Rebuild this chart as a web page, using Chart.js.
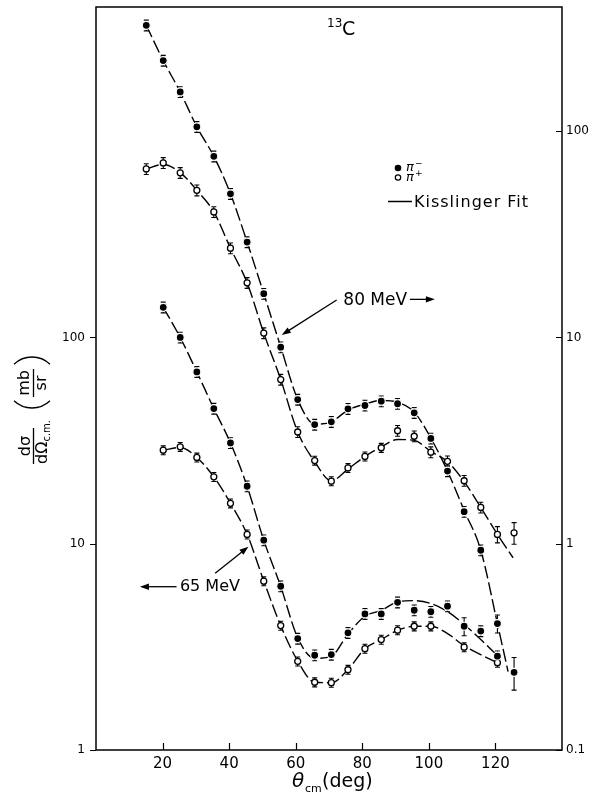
<!DOCTYPE html>
<html>
<head>
<meta charset="utf-8">
<script src="https://cdn.jsdelivr.net/npm/chart.js@4.4.1/dist/chart.umd.min.js"></script>
<style>
  html, body { margin: 0; padding: 0; background: #fff; }
</style>
</head>
<body>
<canvas id="chart" width="595" height="795"></canvas>
<script>
// scattering angles (c.m.), deg
const angles80 = [15.1, 20.2, 25.3, 30.3, 35.4, 40.4, 45.4, 50.4, 55.5, 60.6, 65.7, 70.7, 75.7, 80.8, 85.7, 90.6, 95.6, 100.6, 105.6, 110.6, 115.6, 120.6, 125.6];
const angles65 = [20.2, 25.3, 30.3, 35.4, 40.4, 45.4, 50.4, 55.5, 60.6, 65.7, 70.7, 75.7, 80.8, 85.7, 90.6, 95.6, 100.6, 105.6, 110.6, 115.6, 120.6];

// 80 MeV, read on the right axis (mb/sr)
const piMinus80 = [326, 220, 155, 105, 75.5, 49.7, 29.0, 16.3, 8.97, 5.0, 3.78, 3.90, 4.51, 4.68, 4.91, 4.77, 4.31, 3.24, 2.25, 1.43, 0.93, 0.41, 0.238];
const piPlus80 = [65.6, 70.2, 62.8, 51.7, 40.6, 27.1, 18.4, 10.5, 6.25, 3.48, 2.53, 2.01, 2.33, 2.65, 2.92, 3.53, 3.32, 2.78, 2.51, 2.02, 1.50, 1.11, 1.13];
// 65 MeV, read on the left axis (mb/sr)
const piMinus65 = [140, 100, 68.1, 45.2, 30.8, 19.0, 10.4, 6.22, 3.47, 2.88, 2.90, 3.70, 4.57, 4.57, 5.20, 4.76, 4.68, 4.98, 3.98, 3.77, 2.85];
const piPlus65 = [28.4, 29.5, 26.2, 21.1, 15.7, 11.1, 6.58, 4.01, 2.69, 2.13, 2.12, 2.45, 3.10, 3.43, 3.81, 3.98, 3.98, null, 3.15, null, 2.65];

// error bars, percent
const errMinus80 = [6, 6, 6, 6, 6, 6, 6, 6, 6, 6, 6, 6, 6, 6, 6, 6, 6, 6, 6, 6, 6, 10, 18];
const errPlus80 = [6, 6, 6, 6, 6, 6, 6, 6, 6, 6, 5, 5, 5, 5, 5, 6, 6, 6, 6, 6, 6, 9, 12];
const errMinus65 = [6, 6, 6, 6, 6, 6, 6, 6, 6, 6, 6, 6, 6, 6, 6, 6, 6, 6, 10, 6, 6];
const errPlus65 = [5, 5, 5, 5, 5, 5, 5, 5, 5, 5, 5, 5, 5, 5, 5, 5, 5, 5, 5, 5, 5];

// Kisslinger fit curves
const fitAngles80m = [15.1, 20.2, 25.3, 30.3, 35.4, 40.4, 45.4, 50.4, 55.5, 60.6, 65.7, 70.7, 75.7, 80.8, 85.7, 90.6, 95.6, 100.6, 105.6, 110.6, 115.6, 120.6, 123.8];
const fitMinus80 = [326, 220, 155, 105, 75.5, 49.7, 29.0, 16.3, 9.0, 5.0, 3.8, 3.9, 4.45, 4.75, 4.95, 4.85, 4.35, 3.25, 2.25, 1.45, 0.93, 0.41, 0.24];
const fitAngles80p = [15.1, 20.2, 25.3, 30.3, 35.4, 40.4, 45.4, 50.4, 55.5, 60.6, 65.7, 70.7, 75.7, 80.8, 85.7, 90.6, 95.6, 100.6, 105.6, 110.6, 115.6, 120.6, 125.3];
const fitPlus80 = [65.6, 69, 63, 51.7, 40.6, 27.1, 18.4, 10.5, 6.25, 3.48, 2.5, 2.02, 2.3, 2.65, 2.95, 3.2, 3.17, 2.8, 2.5, 2.0, 1.5, 1.11, 0.855];
const fitMinus65 = [140, 100, 68, 45.2, 30.8, 19, 10.4, 6.2, 3.5, 2.78, 2.85, 3.65, 4.45, 4.75, 5.22, 5.3, 5.13, 4.69, 4.06, 3.43, 2.87];
const fitPlus65 = [28.4, 29.3, 26.2, 21.1, 15.7, 11.1, 6.6, 4.0, 2.7, 2.13, 2.12, 2.45, 3.1, 3.43, 3.8, 3.98, 3.98, 3.67, 3.2, 2.9, 2.65];

const xTicks = [20, 40, 60, 80, 100, 120];
const leftTicks = [1, 10, 100];
const rightTicks = [0.1, 1, 10, 100];

const FONT = '"DejaVu Sans"';
Chart.defaults.font.family = FONT;
Chart.defaults.color = '#000';

function pts(xs, ys) {
  return xs.map((x, i) => ({ x: x, y: ys[i] })).filter(p => p.y != null);
}

function filledSet(xs, ys, axis, errs) {
  return {
    data: pts(xs, ys), yAxisID: axis, showLine: false, order: 0,
    pointRadius: 4, pointBackgroundColor: '#000', pointBorderColor: '#fff', pointBorderWidth: 1.2,
    errs: errs, xs: xs, ys: ys
  };
}
function openSet(xs, ys, axis, errs) {
  return {
    data: pts(xs, ys), yAxisID: axis, showLine: false, order: 0,
    pointRadius: 3, pointBackgroundColor: '#fff', pointBorderColor: '#000', pointBorderWidth: 1.3,
    errs: errs, xs: xs, ys: ys
  };
}
function fitSet(xs, ys, axis) {
  return {
    data: pts(xs, ys), yAxisID: axis, showLine: true, order: 1,
    pointRadius: 0, borderColor: '#000', borderWidth: 1.4, borderDash: [13, 4],
    cubicInterpolationMode: 'monotone', fill: false
  };
}

// annotation anchors in data units (theta, left-axis value)
const arrows = [
  [94.3, 153, 101.8, 153],
  [72.3, 151.9, 55.8, 102.8],
  [24.2, 6.19, 13.2, 6.19],
  [35.8, 7.19, 45.8, 9.67]
];

function arrow(ctx, x1, y1, x2, y2) {
  const a = Math.atan2(y2 - y1, x2 - x1);
  const hl = 9, hw = 3.2;
  ctx.beginPath();
  ctx.moveTo(x1, y1);
  ctx.lineTo(x2 - hl * 0.8 * Math.cos(a), y2 - hl * 0.8 * Math.sin(a));
  ctx.stroke();
  ctx.beginPath();
  ctx.moveTo(x2, y2);
  ctx.lineTo(x2 - hl * Math.cos(a) + hw * Math.sin(a), y2 - hl * Math.sin(a) - hw * Math.cos(a));
  ctx.lineTo(x2 - hl * Math.cos(a) - hw * Math.sin(a), y2 - hl * Math.sin(a) + hw * Math.cos(a));
  ctx.closePath();
  ctx.fill();
}

const decor = {
  id: 'decor',
  beforeDatasetsDraw(chart) {
    const ctx = chart.ctx;
    const xs = chart.scales.x;
    ctx.save();
    ctx.strokeStyle = '#000';
    ctx.lineWidth = 1.1;
    chart.data.datasets.forEach(ds => {
      if (!ds.errs) return;
      const ys = chart.scales[ds.yAxisID];
      ds.xs.forEach((t, i) => {
        const v = ds.ys[i];
        if (v == null) return;
        const px = xs.getPixelForValue(t);
        const top = ys.getPixelForValue(v * (1 + ds.errs[i] / 100));
        const bot = ys.getPixelForValue(v * (1 - ds.errs[i] / 100));
        ctx.beginPath();
        ctx.moveTo(px, top); ctx.lineTo(px, bot);
        ctx.moveTo(px - 2.5, top); ctx.lineTo(px + 2.5, top);
        ctx.moveTo(px - 2.5, bot); ctx.lineTo(px + 2.5, bot);
        ctx.stroke();
      });
    });
    ctx.restore();
  },
  afterDraw(chart) {
    const ctx = chart.ctx;
    const a = chart.chartArea;
    const xs = chart.scales.x, yl = chart.scales.y, yr = chart.scales.y2;
    ctx.save();
    ctx.strokeStyle = '#000';
    ctx.fillStyle = '#000';

    // frame
    ctx.lineWidth = 1.5;
    ctx.strokeRect(a.left, a.top, a.right - a.left, a.bottom - a.top);

    // ticks
    ctx.lineWidth = 1.2;
    ctx.beginPath();
    xTicks.forEach(t => {
      const px = Math.round(xs.getPixelForValue(t)) + 0.5;
      ctx.moveTo(px, a.bottom); ctx.lineTo(px, a.bottom - 7);
    });
    leftTicks.forEach(t => {
      const py = Math.round(yl.getPixelForValue(t)) + 0.5;
      ctx.moveTo(a.left, py); ctx.lineTo(a.left - 6, py);
    });
    rightTicks.forEach(t => {
      const py = Math.round(yr.getPixelForValue(t)) + 0.5;
      ctx.moveTo(a.right, py); ctx.lineTo(a.right - 6, py);
    });
    ctx.stroke();

    // arrows
    ctx.lineWidth = 1.3;
    arrows.forEach(r => {
      arrow(ctx, xs.getPixelForValue(r[0]), yl.getPixelForValue(r[1]),
        xs.getPixelForValue(r[2]), yl.getPixelForValue(r[3]));
    });

    // energy labels
    ctx.textAlign = 'left';
    ctx.textBaseline = 'alphabetic';
    ctx.font = '17px ' + FONT;
    ctx.fillText('80 MeV', xs.getPixelForValue(74.3), yl.getPixelForValue(143.7));
    ctx.font = '16px ' + FONT;
    ctx.fillText('65 MeV', xs.getPixelForValue(25.2), yl.getPixelForValue(5.87));

    // nucleus label
    ctx.font = '12px ' + FONT;
    ctx.fillText('13', 327, 27);
    ctx.font = '19px ' + FONT;
    ctx.fillText('C', 342, 35);

    // legend
    ctx.beginPath(); ctx.arc(398, 168, 3.3, 0, Math.PI * 2); ctx.fill();
    ctx.lineWidth = 1.2;
    ctx.beginPath(); ctx.arc(398, 177.5, 2.7, 0, Math.PI * 2); ctx.stroke();
    ctx.font = 'italic 13px ' + FONT;
    ctx.fillText('\u03c0', 406, 171);
    ctx.fillText('\u03c0', 406, 181);
    ctx.font = '9px ' + FONT;
    ctx.fillText('\u2212', 415, 166);
    ctx.fillText('+', 415, 176);
    ctx.lineWidth = 1.5;
    ctx.beginPath(); ctx.moveTo(388, 201.5); ctx.lineTo(412, 201.5); ctx.stroke();
    ctx.font = '16px ' + FONT;
    ctx.letterSpacing = '1px';
    ctx.fillText('Kisslinger Fit', 414, 207);
    ctx.letterSpacing = '0px';

    // x axis title
    ctx.font = 'italic 20px ' + FONT;
    ctx.fillText('\u03b8', 292, 787);
    ctx.font = '11px ' + FONT;
    ctx.fillText('cm', 305, 792);
    ctx.font = '19px ' + FONT;
    ctx.fillText('(deg)', 322, 787);

    // y axis title (rotated)
    ctx.translate(33, 410);
    ctx.rotate(-Math.PI / 2);
    ctx.lineWidth = 1.3;
    ctx.font = '16px ' + FONT;
    ctx.textAlign = 'center';
    ctx.fillText('d\u03c3', -36, -3);
    ctx.beginPath(); ctx.moveTo(-54, 0.5); ctx.lineTo(-18, 0.5); ctx.stroke();
    ctx.textAlign = 'left';
    ctx.fillText('d\u03a9', -54, 14);
    const w = ctx.measureText('d\u03a9').width;
    ctx.font = '10px ' + FONT;
    ctx.fillText('c.m.', -54 + w, 17);
    // (mb/sr)
    ctx.font = '16px ' + FONT;
    ctx.textAlign = 'center';
    ctx.fillText('mb', 27, -4);
    ctx.fillText('sr', 27, 13);
    ctx.beginPath(); ctx.moveTo(13, 0.5); ctx.lineTo(41, 0.5); ctx.stroke();
    const R = 26, h = Math.asin(18 / R);
    ctx.beginPath(); ctx.arc(2 + R, -1, R, Math.PI - h, Math.PI + h); ctx.stroke();
    ctx.beginPath(); ctx.arc(53 - R, -1, R, -h, h); ctx.stroke();
    ctx.restore();
  }
};

function noPad(s) {
  s.paddingTop = 0; s.paddingBottom = 0; s.paddingLeft = 0; s.paddingRight = 0;
}

const ctx = document.getElementById('chart').getContext('2d');
new Chart(ctx, {
  type: 'scatter',
  data: {
    datasets: [
      filledSet(angles80, piMinus80, 'y2', errMinus80),
      openSet(angles80, piPlus80, 'y2', errPlus80),
      filledSet(angles65, piMinus65, 'y', errMinus65),
      openSet(angles65, piPlus65, 'y', errPlus65),
      fitSet(fitAngles80m, fitMinus80, 'y2'),
      fitSet(fitAngles80p, fitPlus80, 'y2'),
      fitSet(angles65, fitMinus65, 'y'),
      fitSet(angles65, fitPlus65, 'y')
    ]
  },
  options: {
    responsive: false,
    animation: false,
    devicePixelRatio: 1,
    layout: { padding: { top: 7, left: 0, right: 0, bottom: 0 } },
    plugins: { legend: { display: false }, tooltip: { enabled: false } },
    scales: {
      x: {
        type: 'linear', position: 'bottom', min: 0, max: 140,
        grid: { display: false, drawTicks: false }, border: { display: false },
        ticks: { color: '#000', font: { size: 15 }, padding: 5, callback: v => String(v) },
        afterBuildTicks: s => { s.ticks = xTicks.map(v => ({ value: v })); },
        afterFit: s => { s.height = 45; noPad(s); }
      },
      y: {
        type: 'logarithmic', position: 'left', min: 1, max: 4000,
        grid: { display: false, drawTicks: false }, border: { display: false },
        ticks: { color: '#000', font: { size: 12 }, padding: 11, callback: v => String(v) },
        afterBuildTicks: s => { s.ticks = leftTicks.map(v => ({ value: v })); },
        afterFit: s => { s.width = 96; noPad(s); }
      },
      y2: {
        type: 'logarithmic', position: 'right', min: 0.1, max: 400,
        grid: { display: false, drawTicks: false }, border: { display: false },
        ticks: { color: '#000', font: { size: 12 }, padding: 4, callback: v => String(v) },
        afterBuildTicks: s => { s.ticks = rightTicks.map(v => ({ value: v })); },
        afterFit: s => { s.width = 33; noPad(s); }
      }
    }
  },
  plugins: [decor]
});
</script>
</body>
</html>
